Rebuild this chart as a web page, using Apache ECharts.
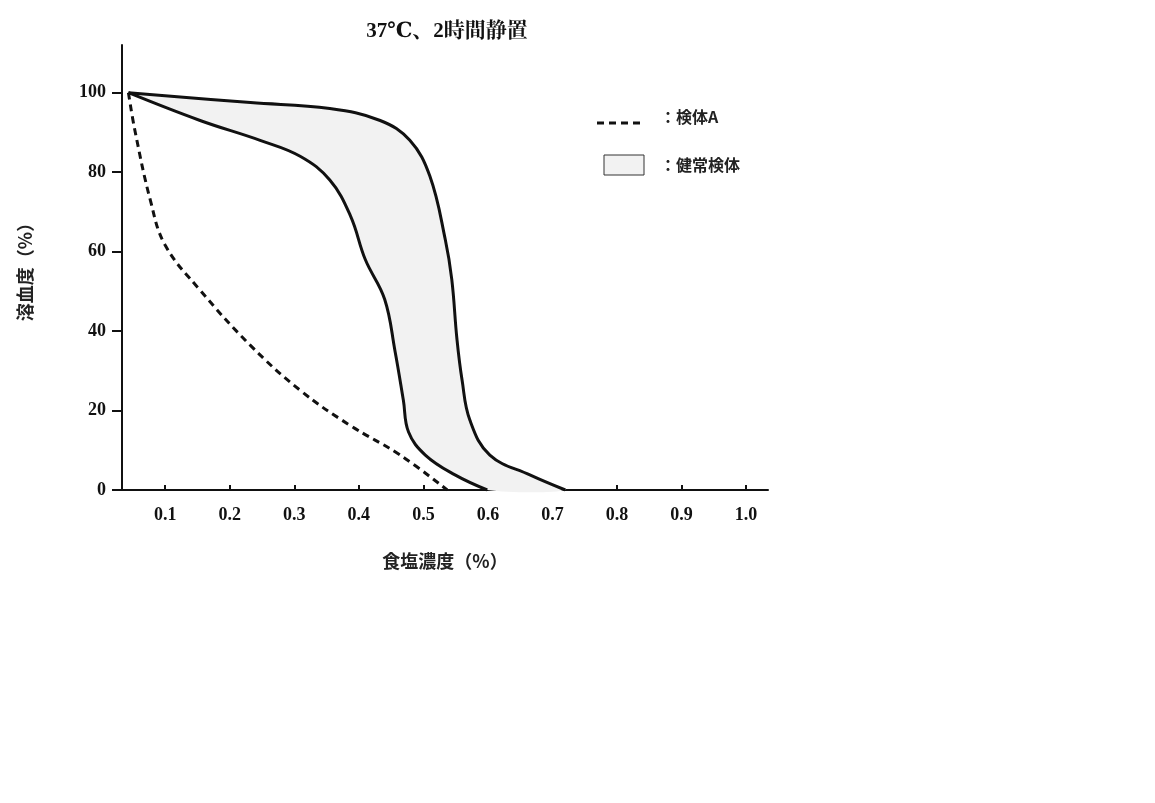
<!DOCTYPE html>
<html><head><meta charset="utf-8">
<script src="https://cdn.jsdelivr.net/npm/echarts@6/dist/echarts.min.js"></script>
<style>html,body{margin:0;background:#fff}#c{width:1155px;height:803px}</style>
</head><body><div id="c"></div>
<script>
const xTicks=[0.1,0.2,0.3,0.4,0.5,0.6,0.7,0.8,0.9,1.0];
const yTicks=[0,20,40,60,80,100];
const sampleA=[[0.043,100],[0.053,90.5],[0.077,72.9],[0.1,61.6],[0.154,50.3],[0.232,36.4],[0.309,25.1],[0.386,16.3],[0.464,8.8],[0.537,0]];
const healthyUpper=[[0.043,100],[0.232,97.5],[0.355,96],[0.433,93],[0.479,88],[0.51,79],[0.534,63],[0.544,53],[0.552,38],[0.56,27.6],[0.572,17.6],[0.603,8.8],[0.665,3.8],[0.72,0]];
const healthyLower=[[0.043,100],[0.154,93],[0.247,88],[0.309,84],[0.355,78],[0.387,69],[0.41,58],[0.44,48],[0.456,35],[0.469,22.6],[0.477,14.6],[0.503,8.8],[0.549,3.8],[0.599,0]];
const poly=healthyLower.concat(healthyUpper.slice().reverse());
const chart=echarts.init(document.getElementById('c'));
const serif='"Liberation Serif","DejaVu Serif",serif';
const cjk='"Noto Sans CJK JP",sans-serif';
chart.setOption({
 animation:false,
 title:{text:'37℃、2時間静置',left:442,top:16,textAlign:'center',textStyle:{fontFamily:serif+',"Noto Serif CJK JP"',fontWeight:'bold',fontSize:21,color:'#111'}},
 grid:{left:122,right:387,top:45,bottom:313},
 xAxis:{type:'value',min:0.033,max:1.034,
  name:'食塩濃度（%）',nameLocation:'middle',nameGap:62,nameTextStyle:{fontFamily:cjk,fontWeight:'bold',fontSize:18,color:'#222'},
  axisLine:{lineStyle:{color:'#111',width:2}},
  axisTick:{show:true,customValues:xTicks,length:5,inside:true,lineStyle:{color:'#111',width:2}},
  axisLabel:{customValues:xTicks,formatter:v=>v.toFixed(1),margin:16,fontFamily:serif,fontWeight:'bold',fontSize:18,color:'#111'},
  splitLine:{show:false}},
 yAxis:{type:'value',min:0,max:112,
  name:'溶血度（%）',nameLocation:'middle',nameGap:88,nameRotate:90,nameTextStyle:{fontFamily:cjk,fontWeight:'bold',fontSize:18,color:'#222'},
  axisLine:{show:true,lineStyle:{color:'#111',width:2}},
  axisTick:{show:true,customValues:yTicks,length:10,lineStyle:{color:'#111',width:2}},
  axisLabel:{customValues:yTicks,margin:16,fontFamily:serif,fontWeight:'bold',fontSize:18,color:'#111'},
  splitLine:{show:false}},
 series:[
  {type:'custom',data:[0],z:1,renderItem:(p,api)=>({type:'polygon',shape:{points:poly.map(d=>api.coord(d)),smooth:0.3},style:{fill:'#f2f2f2'}})},
  {type:'line',data:healthyUpper,smooth:0.4,symbol:'none',lineStyle:{color:'#111',width:3},z:3},
  {type:'line',data:healthyLower,smooth:0.4,symbol:'none',lineStyle:{color:'#111',width:3},z:3},
  {type:'line',data:sampleA,smooth:0.4,symbol:'none',lineStyle:{color:'#111',width:3,type:[7,5]},z:3}
 ],
 graphic:[
  {type:'line',shape:{x1:597,y1:123,x2:642,y2:123},style:{stroke:'#111',lineWidth:3,lineDash:[7,5]}},
  {type:'text',x:660,y:117,style:{text:'：検体A',font:'bold 16px '+cjk,fill:'#222',textVerticalAlign:'middle'}},
  {type:'rect',shape:{x:604,y:155,width:40,height:20},style:{fill:'#f2f2f2',stroke:'#333',lineWidth:1}},
  {type:'text',x:660,y:165,style:{text:'：健常検体',font:'bold 16px '+cjk,fill:'#222',textVerticalAlign:'middle'}}
 ]
});
</script></body></html>
